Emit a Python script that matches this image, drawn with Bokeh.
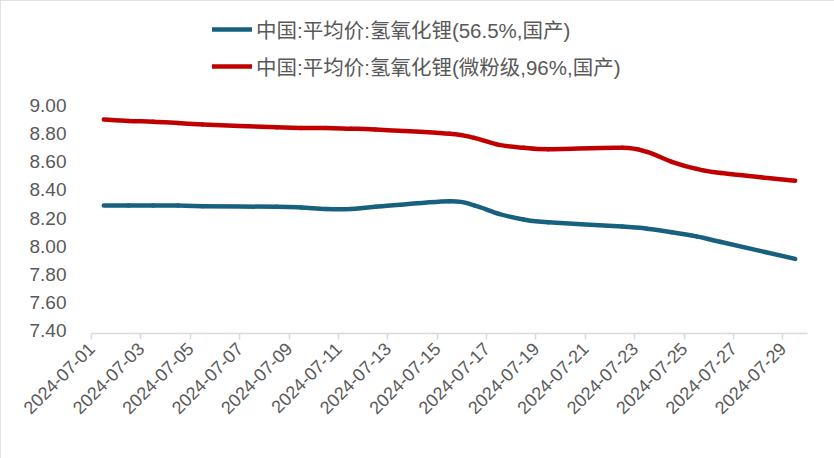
import math
from datetime import date
from bokeh.plotting import figure
from bokeh.models import Range1d, FixedTicker, NumeralTickFormatter, Legend, LegendItem
from bokeh.embed import file_html
from bokeh.resources import INLINE

# ---- data ----
dates = ["2024-07-01", "2024-07-02", "2024-07-03", "2024-07-04", "2024-07-05",
         "2024-07-08", "2024-07-09", "2024-07-10", "2024-07-11", "2024-07-12",
         "2024-07-15", "2024-07-16", "2024-07-17", "2024-07-18", "2024-07-19",
         "2024-07-22", "2024-07-23", "2024-07-24", "2024-07-25", "2024-07-26",
         "2024-07-29"]
lioh_565 = [8.29, 8.29, 8.29, 8.29, 8.285,
            8.28, 8.275, 8.265, 8.265, 8.28,
            8.32, 8.29, 8.23, 8.19, 8.17,
            8.14, 8.125, 8.10, 8.07, 8.03,
            7.91]
lioh_96 = [8.90, 8.89, 8.885, 8.875, 8.865,
           8.845, 8.84, 8.84, 8.835, 8.83,
           8.80, 8.77, 8.72, 8.70, 8.69,
           8.70, 8.67, 8.60, 8.55, 8.52,
           8.465]
series_names = ["中国:平均价:氢氧化锂(56.5%,国产)", "中国:平均价:氢氧化锂(微粉级,96%,国产)"]
series_colors = ["#17607F", "#C00000"]
tick_labels = ["2024-07-01", "2024-07-03", "2024-07-05", "2024-07-07", "2024-07-09",
               "2024-07-11", "2024-07-13", "2024-07-15", "2024-07-17", "2024-07-19",
               "2024-07-21", "2024-07-23", "2024-07-25", "2024-07-27", "2024-07-29"]
y_ticks = [7.40, 7.60, 7.80, 8.00, 8.20, 8.40, 8.60, 8.80, 9.00]

FONT = "'Liberation Sans', 'Noto Sans CJK SC', sans-serif"
TXT = "#595959"
AX = "#D9D9D9"

start = date(2024, 7, 1)
def day_pos(s):
    y, m, d = map(int, s.split("-"))
    return (date(y, m, d) - start).days + 0.5   # centre of the day slot

xs = [day_pos(s) for s in dates]

def bezier_segments(x, y):
    n = len(x)
    out = dict(x0=[], y0=[], x1=[], y1=[], cx0=[], cy0=[], cx1=[], cy1=[])
    for i in range(n - 1):
        im = max(i - 1, 0)
        ip = min(i + 2, n - 1)
        out["x0"].append(x[i]); out["y0"].append(y[i])
        out["x1"].append(x[i + 1]); out["y1"].append(y[i + 1])
        out["cx0"].append(x[i] + (x[i + 1] - x[im]) / 6.0)
        out["cy0"].append(y[i] + (y[i + 1] - y[im]) / 6.0)
        out["cx1"].append(x[i + 1] - (x[ip] - x[i]) / 6.0)
        out["cy1"].append(y[i + 1] - (y[ip] - y[i]) / 6.0)
    return out

# layout: frame spans screen y 10..333; value 9.00 sits at y=105, 7.38 at the axis
TOP_PX, BOTTOM_PX, Y900_PX = 10, 333, 105
px_per_unit = (BOTTOM_PX - Y900_PX) / (9.0 - 7.38)
y_top = 9.0 + (Y900_PX - TOP_PX) / px_per_unit

p = figure(width=834, height=458, output_backend="svg", toolbar_location=None,
           x_range=Range1d(0, 29), y_range=Range1d(7.38, y_top),
           min_border_left=91, min_border_right=27, min_border_top=TOP_PX,
           min_border_bottom=458 - BOTTOM_PX)
p.grid.visible = False
p.outline_line_color = None
p.background_fill_color = "white"
p.border_fill_color = "white"
p.styles = {"outline": "1px solid #D9D9D9", "outline-offset": "-1px"}

renderers = []
for vals, col in zip([lioh_565, lioh_96], series_colors):
    seg = bezier_segments(xs, vals)
    r = p.bezier(line_color=col, line_width=4.5, line_cap="round", line_join="round", **seg)
    renderers.append(r)

# x axis
xa = p.xaxis[0]
tick_pos = [day_pos(s) - 0.5 for s in tick_labels]
xa.ticker = FixedTicker(ticks=tick_pos)
xa.major_label_overrides = {int(t): lab for t, lab in zip(tick_pos, tick_labels)}
xa.major_label_orientation = math.pi / 4
xa.axis_line_color = AX
xa.axis_line_width = 1.5
xa.major_tick_line_color = AX
xa.major_tick_line_width = 1.5
xa.major_tick_out = 6
xa.major_tick_in = 0
xa.minor_tick_line_color = None
xa.major_label_text_font = FONT
xa.major_label_text_font_size = "18px"
xa.major_label_text_color = TXT
xa.major_label_standoff = 6

# y axis
ya = p.yaxis[0]
ya.ticker = FixedTicker(ticks=y_ticks)
ya.formatter = NumeralTickFormatter(format="0.00")
ya.axis_line_color = None
ya.major_tick_line_color = None
ya.minor_tick_line_color = None
ya.major_tick_out = 0
ya.major_tick_in = 0
ya.major_label_standoff = 25
ya.major_label_text_font = FONT
ya.major_label_text_font_size = "19px"
ya.major_label_text_color = TXT

legend = Legend(items=[LegendItem(label=n, renderers=[r]) for n, r in zip(series_names, renderers)],
                location=(121, BOTTOM_PX - 81), orientation="vertical",
                border_line_color=None, background_fill_alpha=0,
                padding=0, margin=0, spacing=7,
                glyph_width=40, glyph_height=20, label_standoff=4, label_height=20,
                label_text_font=FONT, label_text_font_size="20.5px", label_text_color=TXT)
p.add_layout(legend)

open("out.html", "w").write(file_html(p, INLINE))
